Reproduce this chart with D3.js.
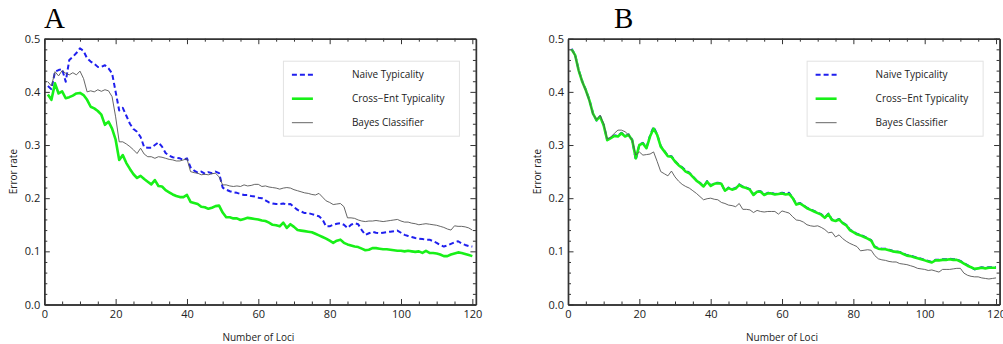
<!DOCTYPE html>
<html>
<head>
<meta charset="utf-8">
<script src="https://cdn.jsdelivr.net/npm/d3@7"></script>
<style>
  body { margin: 0; background: #fff; }
  text { font-family: "Open Sans", sans-serif; fill: #222; }
</style>
</head>
<body>
<div id="chart"></div>
<script>
// x values: number of loci
const loci = d3.range(1, 121);

const xTicks = [0, 20, 40, 60, 80, 100, 120];
const yTicks = [0, 0.1, 0.2, 0.3, 0.4, 0.5];
const seriesNames = ["Naive Typicality", "Cross\u2212Ent Typicality", "Bayes Classifier"];

// Panel A
const naiveA = [
  0.411,0.405,0.438,0.441,0.443,0.419,0.460,0.466,0.473,0.482,
  0.477,0.463,0.457,0.453,0.447,0.447,0.450,0.444,0.435,0.400,
  0.365,0.370,0.355,0.340,0.330,0.325,0.315,0.296,0.295,0.295,
  0.300,0.305,0.297,0.285,0.280,0.277,0.276,0.275,0.272,0.275,
  0.258,0.252,0.248,0.250,0.246,0.249,0.247,0.250,0.247,0.220,
  0.216,0.213,0.211,0.210,0.208,0.206,0.206,0.204,0.203,0.201,
  0.200,0.196,0.192,0.190,0.189,0.189,0.190,0.188,0.189,0.183,
  0.178,0.175,0.172,0.172,0.170,0.168,0.166,0.160,0.147,0.147,
  0.150,0.152,0.153,0.150,0.144,0.150,0.153,0.151,0.140,0.131,
  0.134,0.137,0.135,0.134,0.135,0.136,0.137,0.138,0.139,0.135,
  0.131,0.129,0.127,0.125,0.124,0.123,0.122,0.122,0.119,0.116,
  0.112,0.109,0.111,0.114,0.117,0.119,0.115,0.112,0.110,0.109
];
const crossA = [
  0.395,0.385,0.416,0.397,0.401,0.388,0.390,0.393,0.397,0.398,
  0.394,0.385,0.372,0.369,0.364,0.357,0.338,0.344,0.331,0.310,
  0.272,0.281,0.266,0.255,0.245,0.238,0.242,0.236,0.231,0.226,
  0.234,0.223,0.222,0.215,0.211,0.207,0.204,0.202,0.202,0.206,
  0.193,0.191,0.189,0.184,0.183,0.180,0.182,0.185,0.186,0.173,
  0.164,0.164,0.162,0.162,0.159,0.161,0.163,0.162,0.161,0.160,
  0.158,0.157,0.154,0.150,0.149,0.147,0.154,0.144,0.151,0.146,
  0.140,0.139,0.138,0.137,0.136,0.133,0.130,0.127,0.124,0.120,
  0.116,0.120,0.122,0.116,0.113,0.111,0.109,0.108,0.105,0.102,
  0.103,0.106,0.106,0.105,0.104,0.104,0.103,0.102,0.101,0.101,
  0.100,0.101,0.100,0.099,0.100,0.097,0.101,0.097,0.097,0.096,
  0.094,0.091,0.091,0.094,0.096,0.098,0.097,0.095,0.093,0.091
];
const bayesA = [
  0.419,0.411,0.438,0.430,0.440,0.435,0.432,0.436,0.432,0.439,
  0.425,0.400,0.402,0.400,0.404,0.401,0.404,0.402,0.391,0.353,
  0.306,0.306,0.302,0.297,0.291,0.284,0.294,0.283,0.278,0.278,
  0.275,0.278,0.277,0.275,0.273,0.272,0.270,0.270,0.272,0.274,
  0.250,0.248,0.247,0.244,0.245,0.244,0.246,0.247,0.240,0.225,
  0.225,0.223,0.222,0.223,0.222,0.225,0.223,0.224,0.226,0.226,
  0.222,0.223,0.221,0.220,0.219,0.217,0.219,0.220,0.219,0.216,
  0.214,0.212,0.210,0.209,0.207,0.206,0.209,0.202,0.195,0.192,
  0.188,0.189,0.190,0.184,0.163,0.163,0.162,0.159,0.157,0.156,
  0.157,0.157,0.158,0.157,0.156,0.157,0.158,0.159,0.160,0.157,
  0.155,0.155,0.153,0.152,0.150,0.151,0.152,0.151,0.150,0.149,
  0.147,0.145,0.142,0.140,0.148,0.147,0.147,0.146,0.144,0.140
];

// Panel B
const naiveB = [
  0.481,0.470,0.441,0.420,0.404,0.385,0.360,0.346,0.354,0.338,
  0.310,0.314,0.318,0.318,0.323,0.317,0.320,0.310,0.272,0.301,
  0.304,0.295,0.318,0.334,0.320,0.298,0.289,0.280,0.279,0.270,
  0.263,0.258,0.252,0.248,0.241,0.234,0.229,0.222,0.232,0.224,
  0.228,0.229,0.228,0.213,0.220,0.217,0.219,0.226,0.222,0.220,
  0.217,0.207,0.213,0.213,0.207,0.210,0.210,0.208,0.209,0.210,
  0.209,0.210,0.201,0.189,0.191,0.187,0.182,0.179,0.176,0.173,
  0.170,0.164,0.171,0.160,0.158,0.161,0.154,0.150,0.141,0.137,
  0.133,0.131,0.128,0.125,0.121,0.109,0.106,0.105,0.105,0.103,
  0.101,0.100,0.099,0.096,0.093,0.092,0.090,0.088,0.086,0.084,
  0.082,0.080,0.084,0.084,0.085,0.085,0.086,0.085,0.085,0.082,
  0.078,0.074,0.070,0.066,0.068,0.070,0.069,0.070,0.070,0.070
];
const crossB = [
  0.480,0.469,0.440,0.419,0.403,0.384,0.359,0.347,0.353,0.337,
  0.309,0.313,0.317,0.316,0.322,0.316,0.319,0.309,0.275,0.300,
  0.303,0.294,0.316,0.331,0.319,0.297,0.288,0.279,0.278,0.269,
  0.262,0.257,0.250,0.247,0.240,0.233,0.228,0.222,0.231,0.223,
  0.227,0.228,0.227,0.214,0.219,0.216,0.218,0.225,0.221,0.219,
  0.216,0.206,0.212,0.212,0.206,0.209,0.209,0.207,0.208,0.209,
  0.207,0.208,0.200,0.188,0.190,0.186,0.181,0.178,0.175,0.172,
  0.169,0.163,0.170,0.159,0.157,0.160,0.153,0.149,0.140,0.136,
  0.132,0.130,0.127,0.124,0.120,0.108,0.105,0.104,0.104,0.102,
  0.100,0.099,0.098,0.095,0.092,0.091,0.089,0.087,0.085,0.083,
  0.081,0.079,0.083,0.083,0.084,0.084,0.085,0.084,0.084,0.081,
  0.077,0.073,0.070,0.067,0.068,0.069,0.068,0.069,0.069,0.069
];
const bayesB = [
  0.480,0.468,0.440,0.419,0.402,0.383,0.358,0.348,0.356,0.340,
  0.311,0.315,0.322,0.328,0.328,0.325,0.319,0.309,0.281,0.287,
  0.281,0.282,0.283,0.287,0.269,0.250,0.246,0.242,0.251,0.240,
  0.232,0.226,0.222,0.219,0.214,0.209,0.203,0.197,0.199,0.200,
  0.198,0.197,0.192,0.190,0.187,0.186,0.184,0.190,0.179,0.179,
  0.178,0.173,0.177,0.175,0.174,0.175,0.175,0.175,0.170,0.176,
  0.174,0.172,0.165,0.159,0.158,0.155,0.150,0.148,0.147,0.148,
  0.145,0.141,0.135,0.136,0.127,0.131,0.124,0.119,0.115,0.112,
  0.109,0.101,0.102,0.103,0.102,0.092,0.086,0.084,0.083,0.081,
  0.080,0.080,0.077,0.076,0.075,0.073,0.071,0.068,0.067,0.066,
  0.064,0.065,0.063,0.061,0.066,0.066,0.066,0.067,0.068,0.068,
  0.059,0.055,0.053,0.052,0.052,0.050,0.049,0.048,0.049,0.050
];

const styles = [
  {color: "#1f1fee", width: 2, dash: "5,3"},
  {color: "#18f018", width: 2.6, dash: null},
  {color: "#555555", width: 0.9, dash: null}
];

const svg = d3.select("#chart")
  .append("svg")
    .attr("width", 1003)
    .attr("height", 344);

const panels = [
  {label: "A", labelX: 44, left: 44.3, data: [naiveA, crossA, bayesA]},
  {label: "B", labelX: 614, left: 568, data: [naiveB, crossB, bayesB]}
];

const plotTop = 38.7, plotBottom = 304.5;
const unit = 3.567;

panels.forEach(p => {
  const right = p.left + 121 * unit;
  const x = d3.scaleLinear().domain([0, 121]).range([p.left, right]);
  const y = d3.scaleLinear().domain([0, 0.5]).range([plotBottom, plotTop]);
  const g = svg.append("g");

  // panel letter
  g.append("text")
    .attr("x", p.labelX)
    .attr("y", 28)
    .style("font-family", "'Liberation Serif', serif")
    .style("font-size", "29px")
    .style("fill", "#000")
    .text(p.label);

  // data lines, in legend order (later ones on top)
  const line = d3.line()
    .x((d, i) => x(loci[i]))
    .y(d => y(d));

  p.data.forEach((series, k) => {
    g.append("path")
      .datum(series)
      .attr("fill", "none")
      .attr("stroke", styles[k].color)
      .attr("stroke-width", styles[k].width)
      .attr("stroke-dasharray", styles[k].dash)
      .attr("stroke-linejoin", "round")
      .attr("d", line);
  });

  // frame axes (ticks pointing inward)
  const minorX = d3.range(0, 121, 5).filter(v => v % 20 !== 0);
  const minorY = d3.range(0, 0.51, 0.02).filter((v, i) => i % 5 !== 0);

  const axisStyle = sel => {
    sel.select(".domain").attr("stroke", "#333").attr("stroke-width", 1.4);
    sel.selectAll(".tick line").attr("stroke", "#333").attr("stroke-width", 1);
    sel.selectAll(".tick text")
      .style("font-family", "'Open Sans', sans-serif")
      .style("font-size", "11px")
      .style("fill", "#222");
  };

  // bottom
  g.append("g")
    .attr("transform", `translate(0,${plotBottom})`)
    .call(d3.axisBottom(x).tickValues(minorX).tickSizeInner(-3).tickSizeOuter(0).tickFormat(""))
    .call(axisStyle);
  g.append("g")
    .attr("transform", `translate(0,${plotBottom})`)
    .call(d3.axisBottom(x).tickValues(xTicks).tickSizeInner(-5.5).tickSizeOuter(0).tickPadding(6))
    .call(axisStyle);
  // top
  g.append("g")
    .attr("transform", `translate(0,${plotTop})`)
    .call(d3.axisTop(x).tickValues(minorX).tickSizeInner(-3).tickSizeOuter(0).tickFormat(""))
    .call(axisStyle);
  g.append("g")
    .attr("transform", `translate(0,${plotTop})`)
    .call(d3.axisTop(x).tickValues(xTicks).tickSizeInner(-5.5).tickSizeOuter(0).tickFormat(""))
    .call(axisStyle);
  // left
  g.append("g")
    .attr("transform", `translate(${p.left},0)`)
    .call(d3.axisLeft(y).tickValues(minorY).tickSizeInner(-3).tickSizeOuter(0).tickFormat(""))
    .call(axisStyle);
  g.append("g")
    .attr("transform", `translate(${p.left},0)`)
    .call(d3.axisLeft(y).tickValues(yTicks).tickSizeInner(-5.5).tickSizeOuter(0).tickPadding(4).tickFormat(d3.format(".1f")))
    .call(axisStyle);
  // right
  g.append("g")
    .attr("transform", `translate(${right},0)`)
    .call(d3.axisRight(y).tickValues(minorY).tickSizeInner(-3).tickSizeOuter(0).tickFormat(""))
    .call(axisStyle);
  g.append("g")
    .attr("transform", `translate(${right},0)`)
    .call(d3.axisRight(y).tickValues(yTicks).tickSizeInner(-5.5).tickSizeOuter(0).tickFormat(""))
    .call(axisStyle);

  // axis titles
  g.append("text")
    .attr("x", (p.left + x(120)) / 2)
    .attr("y", 341)
    .attr("text-anchor", "middle")
    .style("font-size", "10px")
    .text("Number of Loci");

  g.append("text")
    .attr("transform", `translate(${p.left - 27},${(plotTop + plotBottom) / 2}) rotate(-90)`)
    .attr("text-anchor", "middle")
    .style("font-size", "10px")
    .text("Error rate");

  // legend
  const lx = right - 193, ly = 60.7;
  const legend = g.append("g").attr("transform", `translate(${lx},${ly})`);
  legend.append("rect")
    .attr("x", 0.5).attr("y", 0.5)
    .attr("width", 176).attr("height", 75)
    .attr("fill", "#fff")
    .attr("stroke", "#e2e2e2")
    .attr("stroke-width", 1);
  seriesNames.forEach((name, k) => {
    const yy = 14 + k * 24;
    legend.append("line")
      .attr("x1", 9).attr("x2", 30)
      .attr("y1", yy).attr("y2", yy)
      .attr("stroke", styles[k].color)
      .attr("stroke-width", styles[k].width)
      .attr("stroke-dasharray", styles[k].dash);
    legend.append("text")
      .attr("x", 69)
      .attr("y", yy + 3.5)
      .style("font-size", "10px")
      .text(name);
  });
});
</script>
</body>
</html>
